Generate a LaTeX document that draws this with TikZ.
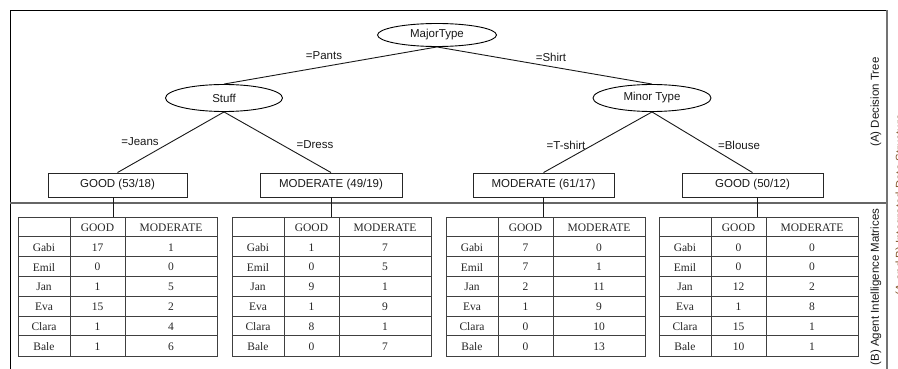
\documentclass[tikz,border=0pt]{standalone}
\usepackage{fontspec}
\setmainfont{Liberation Serif}
\newfontfamily\treefont{Liberation Sans}
\usetikzlibrary{shapes.geometric}

\tikzset{
  treetext/.style={font=\treefont\fontsize{11.5}{13}\selectfont, text=black!90},
  decision/.style={treetext, draw=black, line width=0.9pt, ellipse, inner sep=0pt, minimum height=24pt},
  leafbox/.style={treetext, draw=black!85, line width=0.9pt, rectangle, inner sep=0pt, minimum height=24pt},
  branch/.style={draw=black!90, line width=0.9pt},
  edgelabel/.style={treetext, inner sep=1pt},
  tablebox/.style={draw=black!75, line width=1pt, inner sep=0pt, minimum width=199pt, minimum height=139pt},
  gridline/.style={draw=black!75, line width=1pt},
  cell/.style={font=\fontsize{11.5}{13}\selectfont, text=black!85, inner sep=0pt},
  sidelabel/.style={treetext, rotate=90, inner sep=0pt},
}

% one matrix: #1 left edge, #2 name, #3 GOOD/MODERATE counts per agent
\newcommand\agenttable[3]{%
  \node[tablebox, anchor=north west] (#2) at (#1,217) {};
  \draw[gridline] (#1+52,217) -- (#1+52,356);
  \draw[gridline] (#1+107,217) -- (#1+107,356);
  \foreach \r in {1,...,6}
    \draw[gridline] (#1,217+\r*19.83) -- (#1+199,217+\r*19.83);
  \node[cell] (#2-hg) at (#1+79.5,227.5) {GOOD};
  \node[cell] (#2-hm) at (#1+153,227.5) {MODERATE};
  \foreach \nm [count=\r] in {Gabi,Emil,Jan,Eva,Clara,Bale}
    \node[cell] (#2-n\r) at (#1+26,227.5+\r*19.83) {\nm};
  \foreach \g/\m [count=\r] in {#3}{
    \node[cell] (#2-g\r) at (#1+79.5,227.5+\r*19.83) {\g};
    \node[cell] (#2-m\r) at (#1+153,227.5+\r*19.83) {\m};
  }%
}

\begin{document}
\begin{tikzpicture}[x=1pt,y=-1pt]
\useasboundingbox (0,0) rectangle (898,369);
\fill[white] (0,0) rectangle (898,369);

% frame and section divider
\draw[black, line width=1pt] (10,369) -- (10,11) -- (887,11);
\draw[black!55, line width=2.5pt] (887,10.5) -- (887,369);
\draw[black!60, line width=1.6pt] (10,203) -- (886,203);

% decision tree
\node[decision, minimum width=119pt, minimum height=23pt] (major) at (437,35) {MajorType};
\node[decision, minimum width=117pt, minimum height=27pt] (stuff) at (224,98) {Stuff};
\node[decision, minimum width=118pt, minimum height=27pt] (minor) at (652,98) {Minor Type};

\node[leafbox, minimum width=139pt] (leafA) at (117.5,185) {GOOD (53/18)};
\node[leafbox, minimum width=142pt] (leafB) at (331,185) {MODERATE (49/19)};
\node[leafbox, minimum width=141pt] (leafC) at (543.5,185) {MODERATE (61/17)};
\node[leafbox, minimum width=141pt] (leafD) at (752.5,185) {GOOD (50/12)};

\draw[branch] (major.south) -- (stuff.north);
\draw[branch] (major.south) -- (minor.north);
\draw[branch] (stuff.south) -- (leafA.north);
\draw[branch] (stuff.south) -- (leafB.north);
\draw[branch] (minor.south) -- (leafC.north);
\draw[branch] (minor.south) -- (leafD.north);

\node[edgelabel] (lPants) at (324,56) {=Pants};
\node[edgelabel] (lShirt) at (551,57) {=Shirt};
\node[edgelabel] (lJeans) at (140,142) {=Jeans};
\node[edgelabel] (lDress) at (315,145) {=Dress};
\node[edgelabel] (lTshirt) at (566,145) {=T-shirt};
\node[edgelabel] (lBlouse) at (739,145) {=Blouse};

% agent intelligence matrices
\agenttable{18}{tabA}{17/1,0/0,1/5,15/2,1/4,1/6}
\agenttable{232}{tabB}{1/7,0/5,9/1,1/9,8/1,0/7}
\agenttable{446}{tabC}{7/0,7/1,2/11,1/9,0/10,0/13}
\agenttable{659}{tabD}{0/0,0/0,12/2,1/8,15/1,10/1}

\draw[branch] (leafA.south) ++(-4,0) coordinate (dA) -- (dA |- tabA.north);
\draw[branch] (leafB.south) -- (leafB.south |- tabB.north);
\draw[branch] (leafC.south) -- (leafC.south |- tabC.north);
\draw[branch] (leafD.south) ++(5,0) coordinate (dD) -- (dD |- tabD.north);

% section labels
\node[sidelabel] (secA) at (876,102) {(A) Decision Tree};
\node[sidelabel] (secB) at (876,287) {(B) Agent Intelligence Matrices};
\node[sidelabel, text=brown!70!black] (secAB) at (901,205) {(A and B) Integrated Data Structure};
\end{tikzpicture}
\end{document}
